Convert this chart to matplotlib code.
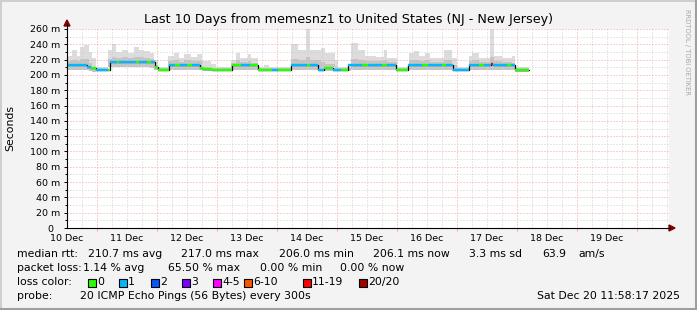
import matplotlib.pyplot as plt
from matplotlib.patches import Rectangle, Polygon
from matplotlib.lines import Line2D

# --- data (hours since Dec 10 ~12:00, rtt in ms) ---
day_labels = ["10 Dec", "11 Dec", "12 Dec", "13 Dec", "14 Dec",
              "15 Dec", "16 Dec", "17 Dec", "18 Dec", "19 Dec"]

# median rtt as runs: each run ends at med_end, holds med_rtt, colored by lost pings
med_end = [0.5, 8.0, 9.6, 11.6, 16.4, 17.2, 20.0, 21.0, 27.6, 29.0, 32.0, 33.6,
           35.2, 36.4, 40.8, 43.2, 45.2, 48.0, 50.0, 53.2, 54.4, 58.0, 66.0,
           69.6, 73.2, 76.4, 82.0, 84.4, 89.6, 96.0, 97.2, 100.4, 102.8, 106.4,
           109.6, 112.4, 118.0, 120.4, 126.0, 128.0, 131.6, 136.4, 142.0, 144.4,
           150.0, 151.6, 154.4, 160.8, 164.8, 166.8, 169.6, 170.4, 176.0, 177.6,
           179.2, 184.8]
med_rtt = [213, 213, 211, 208.5, 206.3, 207, 217, 217, 216.5, 216.5, 216.3, 216.3,
           217, 211, 206.3, 213, 213, 213.5, 213, 213, 208.5, 207.5, 206.3,
           213, 213.5, 212.5, 206.3, 206.3, 206.3, 213, 213, 213, 207, 208.5,
           206.3, 206.3, 213, 213, 213, 213, 213, 206.3, 213, 213,
           213, 213, 213, 206.3, 213, 213, 213, 214, 213, 213,
           213, 206.1]
med_loss = [12, 1, 1, 0, 1, 0, 1, 0, 1, 0, 1, 0,
            1, 0, 0, 1, 0, 1, 0, 1, 0, 0, 0,
            0, 1, 0, 0, 1, 0, 1, 0, 1, 1, 0,
            1, 0, 1, 0, 1, 0, 1, 0, 1, 0,
            1, 0, 1, 1, 1, 0, 1, 12, 1, 0,
            1, 0]

# smoke (spread of the 20 pings) as runs
smoke_end = [2, 4, 5.2, 6.8, 8.8, 10, 11.6, 16.4, 18, 19.6, 22, 24.4, 26.8, 28.8,
             30.8, 33.2, 34.8, 36.4, 40.4, 42.8, 44.8, 46.8, 49.6, 52, 54, 57.6,
             59.6, 65.6, 67.6, 69.2, 72.4, 73.6, 76.4, 78.8, 80.8, 89.6, 92.4,
             95.6, 97.2, 101.6, 103.2, 107.2, 108.4, 113.6, 116.4, 119.2, 123.6,
             126.8, 128, 132, 136.8, 138.8, 140.8, 143.2, 145.2, 150.8, 154, 156,
             160.8, 162, 164.8, 169.2, 170.8, 174, 178, 179.2, 184.8]
smoke_top = [225, 232, 225, 236, 239, 230, 222, 210, 232, 241, 230, 233, 229, 236,
             233, 231, 228, 220, 210, 225, 229, 222, 227, 224, 227, 218,
             214, 210, 220, 229, 222, 227, 222, 210, 213, 210, 240,
             232, 260, 232, 235, 228, 220, 211, 242, 232, 225,
             224, 233, 222, 210, 229, 231, 225, 229, 222, 232, 222,
             210, 225, 229, 222, 262, 225, 222, 225, 210]
smoke_mid = [218, 220, 218, 221, 221, 216, 211, 208.5, 221, 223, 222, 223, 222, 224,
             223, 222, 221, 213, 208.5, 218, 219, 217, 219, 218, 218, 211,
             209.5, 208.5, 216, 219, 217, 218, 216, 208.5, 209, 208.5, 221,
             220, 223, 220, 217, 214, 211, 208.5, 221, 219, 218,
             218, 219, 217, 208.5, 219, 219, 218, 219, 217, 220, 213,
             208.5, 218, 219, 217, 223, 218, 217, 216, 208.5]
smoke_lo = [207, 207, 207, 207, 207, 205, 204, 204.5, 210, 210, 210, 210, 210, 210,
            210, 210, 209, 206, 204.5, 207, 207, 207, 207, 207, 207, 205,
            204.5, 204.5, 207, 207, 207, 207, 206, 204.5, 204.5, 204.5, 207,
            207, 207, 207, 205, 205, 204.5, 204.5, 207, 207, 207,
            207, 207, 206, 204.5, 207, 207, 207, 207, 207, 207, 205,
            204.5, 207, 207, 207, 207, 207, 207, 206, 204]

loss_labels = ["0", "1", "2", "3", "4-5", "6-10", "11-19", "20/20"]
loss_colors = ["#26ff00", "#00b8ff", "#0059ff", "#7e00ff",
               "#ff00ff", "#ff5500", "#ff0000", "#a10000"]
loss_box_x = [88, 119, 151, 182, 213, 244, 303, 359]

W, H = 697, 310
fig = plt.figure(figsize=(W / 100, H / 100), dpi=100)
fig.patch.set_facecolor("#f3f3f3")


def fxy(px, py):
    return px / W, 1 - py / H


def ftext(px, py, s, size=7.8, **kw):
    x, y = fxy(px, py)
    fig.text(x, y, s, fontsize=size, va="center", **kw)


# frame (3d look)
fig.add_artist(Line2D([0, 1], [1 - 0.5 / H, 1 - 0.5 / H], color="#cfcfcf", lw=1.4))
fig.add_artist(Line2D([0.5 / W, 0.5 / W], [0, 1], color="#cfcfcf", lw=1.4))
fig.add_artist(Line2D([0, 1], [1.0 / H, 1.0 / H], color="#9e9e9e", lw=1.5))
fig.add_artist(Line2D([1 - 1.0 / W, 1 - 1.0 / W], [0, 1], color="#9e9e9e", lw=1.5))

ax = fig.add_axes([67 / W, 1 - 228 / H, 602 / W, 199 / H])
ax.set_facecolor("white")
ax.set_xlim(0, 240.8)
ax.set_ylim(0, 260)
for s in ax.spines.values():
    s.set_visible(False)

# grid
minor_x = [h for h in range(6, 241, 6) if h % 24 != 12]
major_x = list(range(12, 241, 24))
ax.vlines(minor_x, 0, 260, colors="#d0d0d0", lw=0.72, linestyles=(0, (1, 2)), zorder=3)
ax.vlines(major_x, 0, 260, colors="#f5a0a0", lw=0.72, linestyles=(0, (1, 2)), zorder=3)
ax.hlines(range(10, 260, 20), 0, 240.8, colors="#d0d0d0", lw=0.72, linestyles=(0, (1, 2)), zorder=3)
ax.hlines(range(20, 261, 20), 0, 240.8, colors="#f5a0a0", lw=0.72, linestyles=(0, (1, 2)), zorder=3)

# smoke
sx = [0] + smoke_end
ax.fill_between(sx, smoke_lo + smoke_lo[-1:], smoke_top + smoke_top[-1:],
                step="post", color="#dcdcdc", lw=0, zorder=1)
ax.fill_between(sx, smoke_lo + smoke_lo[-1:], smoke_mid + smoke_mid[-1:],
                step="post", color="#c4c4c4", lw=0, zorder=2)

# median line: black step underneath, colored by loss on top
mx = [0] + med_end
ax.step(mx, med_rtt + med_rtt[-1:], where="post", color="black", lw=0.9, zorder=4)


def loss_color(n):
    if n <= 3:
        return loss_colors[n]
    if n <= 5:
        return loss_colors[4]
    if n <= 10:
        return loss_colors[5]
    if n <= 19:
        return loss_colors[6]
    return loss_colors[7]


ax.hlines(med_rtt, mx[:-1], med_end, colors=[loss_color(n) for n in med_loss],
          lw=1.7, zorder=5)

# ticks
ax.set_yticks(range(0, 261, 20))
ax.set_yticklabels(["0  "] + ["%d m" % v for v in range(20, 261, 20)])
ax.set_yticks(range(10, 260, 20), minor=True)
ax.set_xticks(range(0, 217, 24))
ax.set_xticklabels(day_labels)
ax.set_xticks(major_x, minor=True)
ax.tick_params(axis="y", which="major", length=2.5, width=0.7, pad=2.6, labelsize=6.8)
ax.tick_params(axis="y", which="minor", length=1.5, width=0.7)
ax.tick_params(axis="x", which="major", length=0, pad=4.2, labelsize=6.8)
ax.tick_params(axis="x", which="minor", length=2, width=0.7, color="#f5a0a0")

# axes with arrows
fig.add_artist(Line2D([67 / W, 67 / W], [1 - 228 / H, 1 - 24 / H], color="black", lw=0.8))
fig.add_artist(Line2D([67 / W, 670 / W], [1 - 228 / H, 1 - 228 / H], color="black", lw=0.8))
fig.add_artist(Polygon([fxy(64, 26), fxy(70, 26), fxy(67, 20)], closed=True,
                       color="#7f0000", transform=fig.transFigure))
fig.add_artist(Polygon([fxy(669, 225), fxy(669, 231), fxy(675, 228)], closed=True,
                       color="#7f0000", transform=fig.transFigure))

# titles
ftext(348, 19, "Last 10 Days from memesnz1 to United States (NJ - New Jersey)",
      size=9.2, ha="center")
fig.text(10 / W, 1 - 128 / H, "Seconds", fontsize=7.8, rotation=90, va="center", ha="center")
fig.text(687 / W, 1 - 52 / H, "RRDTOOL / TOBI OETIKER", fontsize=4.9, rotation=-90,
         va="center", ha="center", color="#a8a8a8")

# legend rows
ftext(17, 254, "median rtt:")
ftext(88, 254, "210.7 ms avg")
ftext(181, 254, "217.0 ms max")
ftext(279, 254, "206.0 ms min")
ftext(373, 254, "206.1 ms now")
ftext(469, 254, "3.3 ms sd")
ftext(542, 254, "63.9")
ftext(578, 254, "am/s")

ftext(17, 268, "packet loss:")
ftext(83, 268, "1.14 % avg")
ftext(168, 268, "65.50 % max")
ftext(260, 268, "0.00 % min")
ftext(340, 268, "0.00 % now")

ftext(17, 282, "loss color:")
for bx, lab, col in zip(loss_box_x, loss_labels, loss_colors):
    x0, y0 = fxy(bx, 286.5)
    fig.add_artist(Rectangle((x0, y0), 8 / W, 8 / H, facecolor=col, edgecolor="black",
                             lw=0.8, transform=fig.transFigure))
    ftext(bx + 9, 282, lab)

ftext(17, 296, "probe:")
ftext(80, 296, "20 ICMP Echo Pings (56 Bytes) every 300s")
ftext(680, 296, "Sat Dec 20 11:58:17 2025", ha="right")

fig.savefig("out.png", dpi=100, facecolor=fig.get_facecolor())
